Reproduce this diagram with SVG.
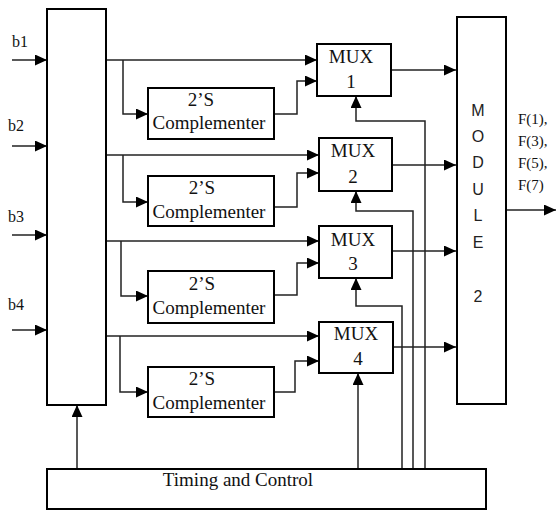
<svg xmlns="http://www.w3.org/2000/svg" width="556" height="510" viewBox="0 0 556 510" font-family="Liberation Serif, serif">
<style>
.box{fill:#fff;stroke:#000;stroke-width:2}
.ln{fill:none;stroke:#222;stroke-width:1.5}
.ar{marker-end:url(#ah)}
.tx{font-family:"Liberation Serif","DejaVu Serif",serif;fill:#111}
.t19{font-size:19px;text-anchor:middle}
.b{font-size:16px}
.f{font-size:15px}
.m{font-family:"Liberation Sans",Arial,sans-serif;font-size:16px;text-anchor:middle;fill:#222}
</style>
<defs>
<marker id="ah" markerUnits="userSpaceOnUse" markerWidth="12" markerHeight="11" refX="12" refY="5.5" orient="auto">
<path d="M0,0 L12,5.5 L0,11 z" fill="#000"/>
</marker>
</defs>
<rect width="556" height="510" fill="#fff"/>
<g id="connectors">
<path class="ln ar" d="M12,60 H47"/>
<path class="ln ar" d="M12,146 H47"/>
<path class="ln ar" d="M12,235 H47"/>
<path class="ln ar" d="M12,330 H47"/>
<path class="ln ar" d="M106,60 H317"/>
<path class="ln ar" d="M123,60 V114 H148"/>
<path class="ln ar" d="M274,114 H297 V81 H317"/>
<path class="ln ar" d="M391,70 H456"/>
<path class="ln ar" d="M425,469 V121 H356 V96"/>
<path class="ln ar" d="M106,155 H319"/>
<path class="ln ar" d="M123,155 V202 H148"/>
<path class="ln ar" d="M274,207 H297 V173 H319"/>
<path class="ln ar" d="M392,165 H456"/>
<path class="ln ar" d="M413,469 V211 H356 V191"/>
<path class="ln ar" d="M106,241 H319"/>
<path class="ln ar" d="M121,241 V296 H148"/>
<path class="ln ar" d="M274,295 H297 V263 H319"/>
<path class="ln ar" d="M392,251 H456"/>
<path class="ln ar" d="M402,469 V306 H356 V278"/>
<path class="ln ar" d="M106,336 H319"/>
<path class="ln ar" d="M120,336 V392 H148"/>
<path class="ln ar" d="M274,392 H295 V361 H319"/>
<path class="ln ar" d="M393,347 H456"/>
<path class="ln ar" d="M358,469 V373"/>
<path class="ln ar" d="M77,469 V405"/>
<path class="ln ar" d="M506,210 H556"/>
</g>
<g id="inputs">
<text class="tx b" x="12" y="47">b1</text>
<text class="tx b" x="8" y="131">b2</text>
<text class="tx b" x="8" y="222">b3</text>
<text class="tx b" x="8" y="310">b4</text>
</g>
<g id="leftblock"><rect class="box" x="47" y="9" width="59" height="396"/></g>
<g id="comp1"><rect class="box" x="148" y="88" width="126" height="51"/>
<text class="tx t19" x="201" y="106">2’S</text><text class="tx t19" x="209" y="129">Complementer</text></g>
<g id="comp2"><rect class="box" x="148" y="176" width="126" height="50"/>
<text class="tx t19" x="202" y="194">2’S</text><text class="tx t19" x="209" y="218">Complementer</text></g>
<g id="comp3"><rect class="box" x="148" y="271" width="126" height="52"/>
<text class="tx t19" x="202" y="290">2’S</text><text class="tx t19" x="209" y="314">Complementer</text></g>
<g id="comp4"><rect class="box" x="148" y="367" width="126" height="50"/>
<text class="tx t19" x="202" y="385">2’S</text><text class="tx t19" x="209" y="409">Complementer</text></g>
<g id="mux1"><rect class="box" x="317" y="44" width="74" height="52"/>
<text class="tx t19" x="351" y="63">MUX</text><text class="tx t19" x="351" y="88">1</text></g>
<g id="mux2"><rect class="box" x="319" y="138" width="73" height="53"/>
<text class="tx t19" x="353" y="157">MUX</text><text class="tx t19" x="353" y="183">2</text></g>
<g id="mux3"><rect class="box" x="319" y="226" width="73" height="52"/>
<text class="tx t19" x="353" y="246">MUX</text><text class="tx t19" x="353" y="270">3</text></g>
<g id="mux4"><rect class="box" x="319" y="322" width="74" height="51"/>
<text class="tx t19" x="356" y="340">MUX</text><text class="tx t19" x="358" y="365">4</text></g>
<g id="module2"><rect class="box" x="457" y="17" width="49" height="387"/>
<text class="m" x="478" y="116">M</text>
<text class="m" x="478" y="142">O</text>
<text class="m" x="478" y="168">D</text>
<text class="m" x="478" y="195">U</text>
<text class="m" x="478" y="221">L</text>
<text class="m" x="478" y="248">E</text>
<text class="m" x="478" y="302">2</text>
</g>
<g id="outputs">
<text class="tx f" x="518" y="124">F(1),</text>
<text class="tx f" x="518" y="146">F(3),</text>
<text class="tx f" x="518" y="168">F(5),</text>
<text class="tx f" x="518" y="190">F(7)</text>
</g>
<g id="timing"><rect class="box" x="47" y="469" width="439" height="40"/>
<text class="tx t19" x="238" y="486">Timing and Control</text></g>
</svg>
